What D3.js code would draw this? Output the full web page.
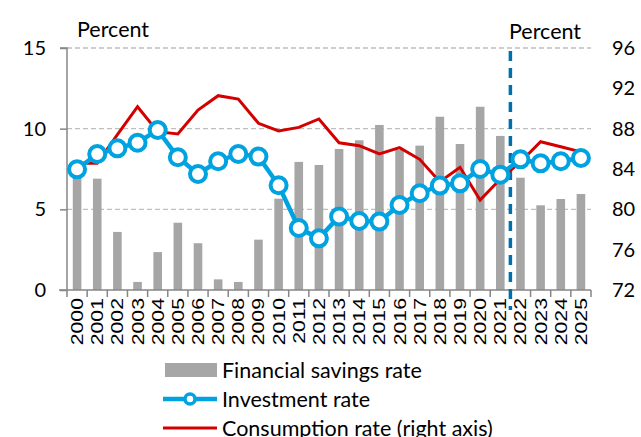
<!DOCTYPE html>
<html>
<head>
<meta charset="utf-8">
<script src="https://cdn.jsdelivr.net/npm/d3@7.9.0/dist/d3.min.js"></script>
<style>
  body { margin: 0; background: #fff; }
  svg { display: block; font-family: Lato, "Open Sans", sans-serif; }
</style>
</head>
<body>
<svg id="chart" width="641" height="437"></svg>
<script>
// data
const years = d3.range(2000, 2026).map(String);
const savings = [7.5, 6.9, 3.6, 0.5, 2.35, 4.17, 2.9, 0.66, 0.5, 3.12, 5.66, 7.94, 7.75,
  8.74, 9.28, 10.23, 8.7, 8.95, 10.74, 9.05, 11.36, 9.55, 6.96, 5.25, 5.64, 5.95];
const investment = [7.48, 8.43, 8.78, 9.13, 9.92, 8.23, 7.19, 7.98, 8.43, 8.27, 6.49, 3.84, 3.2,
  4.55, 4.28, 4.24, 5.27, 6.0, 6.47, 6.61, 7.5, 7.15, 8.1, 7.85, 7.98, 8.18];
const consumption = [84.56, 84.56, 87.4, 90.18, 87.7, 87.47, 89.85, 91.27, 90.94, 88.53, 87.77, 88.13, 88.96,
  86.6, 86.31, 85.49, 86.12, 84.96, 82.74, 84.17, 80.93, 83.0, 84.7, 86.7, 86.2, 85.7];
const leftTicks = [0, 5, 10, 15];
const rightTicks = [72, 76, 80, 84, 88, 92, 96];
const forecastStart = "2022";

const x0 = 67, x1 = 591, yTop = 48, yBot = 290;

const svg = d3.select('#chart');
const x = d3.scaleBand().domain(years).range([x0, x1]);
const yL = d3.scaleLinear().domain([0, 15]).range([yBot, yTop]);
const yR = d3.scaleLinear().domain([72, 96]).range([yBot, yTop]);
const cx = d => x(d) + x.bandwidth() / 2;

// gridlines
svg.append('g').selectAll('line').data([5, 10, 15]).join('line')
  .attr('x1', x0).attr('x2', x1)
  .attr('y1', d => yL(d)).attr('y2', d => yL(d))
  .attr('stroke', '#bfbfbf').attr('stroke-width', 1.3).attr('stroke-dasharray', '5,3');

// bars
svg.append('g').selectAll('rect').data(years).join('rect')
  .attr('x', d => cx(d) - 4.3).attr('width', 8.6)
  .attr('y', (d, i) => yL(savings[i])).attr('height', (d, i) => yBot - yL(savings[i]))
  .attr('fill', '#a6a6a6');

// left axis
const axL = d3.axisLeft(yL).tickValues(leftTicks).tickSize(7).tickPadding(14);
const gL = svg.append('g').attr('transform', `translate(${x0},0)`).call(axL);
gL.select('.domain').attr('stroke', '#868686').attr('stroke-width', 1.5).attr('d', `M-7,${yTop}H0V${yBot}`);
gL.selectAll('.tick line').attr('stroke', '#868686').attr('stroke-width', 1.5);
gL.selectAll('.tick text').attr('font-size', 20).attr('font-family', 'Lato, sans-serif').attr('fill', '#000');

// right axis labels only
const axR = d3.axisRight(yR).tickValues(rightTicks).tickSize(0).tickPadding(21);
const gR = svg.append('g').attr('transform', `translate(${x1},0)`).call(axR);
gR.select('.domain').remove();
gR.selectAll('.tick text').attr('font-size', 20).attr('font-family', 'Lato, sans-serif').attr('fill', '#000');

// x axis
const gX = svg.append('g').attr('transform', `translate(0,${yBot})`);
gX.append('line').attr('x1', x0 - 8).attr('x2', x1).attr('stroke', '#868686').attr('stroke-width', 1.5);
gX.selectAll('line.tk').data(years.concat(['end'])).join('line').attr('class', 'tk')
  .attr('x1', (d, i) => x0 + i * x.step()).attr('x2', (d, i) => x0 + i * x.step())
  .attr('y1', 0).attr('y2', 7).attr('stroke', '#868686').attr('stroke-width', 1.5);
gX.selectAll('text').data(years).join('text')
  .attr('transform', d => `translate(${cx(d) + 6},8) rotate(-90) scale(1.25,1)`)
  .attr('text-anchor', 'end')
  .attr('font-family', '"Liberation Sans", Arial, sans-serif')
  .attr('font-size', 17)
  .text(d => d);

// forecast divider
svg.append('line')
  .attr('x1', x(forecastStart)).attr('x2', x(forecastStart))
  .attr('y1', yTop + 3).attr('y2', 310)
  .attr('stroke', '#0070ad').attr('stroke-width', 3.5).attr('stroke-dasharray', '10,7');

// consumption line (right axis)
svg.append('path')
  .datum(years)
  .attr('fill', 'none').attr('stroke', '#d40000').attr('stroke-width', 3)
  .attr('d', d3.line().x(d => cx(d)).y((d, i) => yR(consumption[i])));

// investment line
svg.append('path')
  .datum(years)
  .attr('fill', 'none').attr('stroke', '#00a2e0').attr('stroke-width', 4.5)
  .attr('d', d3.line().x(d => cx(d)).y((d, i) => yL(investment[i])));
svg.append('g').selectAll('circle').data(years).join('circle')
  .attr('cx', d => cx(d)).attr('cy', (d, i) => yL(investment[i]))
  .attr('r', 8).attr('fill', '#fff').attr('stroke', '#00a2e0').attr('stroke-width', 4);

// unit labels
svg.append('text').attr('x', 77).attr('y', 37).attr('font-size', 21.5).text('Percent');
svg.append('text').attr('x', 509).attr('y', 39).attr('font-size', 21.5).text('Percent');

// legend
const lg = svg.append('g').attr('font-size', 21.5);
lg.append('rect').attr('x', 165).attr('y', 363).attr('width', 52).attr('height', 14).attr('fill', '#a6a6a6');
lg.append('text').attr('x', 222).attr('y', 378).text('Financial savings rate');
lg.append('line').attr('x1', 163).attr('x2', 217).attr('y1', 399).attr('y2', 399)
  .attr('stroke', '#00a2e0').attr('stroke-width', 4.5);
lg.append('circle').attr('cx', 190).attr('cy', 399).attr('r', 5)
  .attr('fill', '#fff').attr('stroke', '#00a2e0').attr('stroke-width', 3.5);
lg.append('text').attr('x', 222).attr('y', 407).text('Investment rate');
lg.append('line').attr('x1', 163).attr('x2', 217).attr('y1', 428).attr('y2', 428)
  .attr('stroke', '#d40000').attr('stroke-width', 3);
lg.append('text').attr('x', 222).attr('y', 436).text('Consumption rate (right axis)');
</script>
</body>
</html>
